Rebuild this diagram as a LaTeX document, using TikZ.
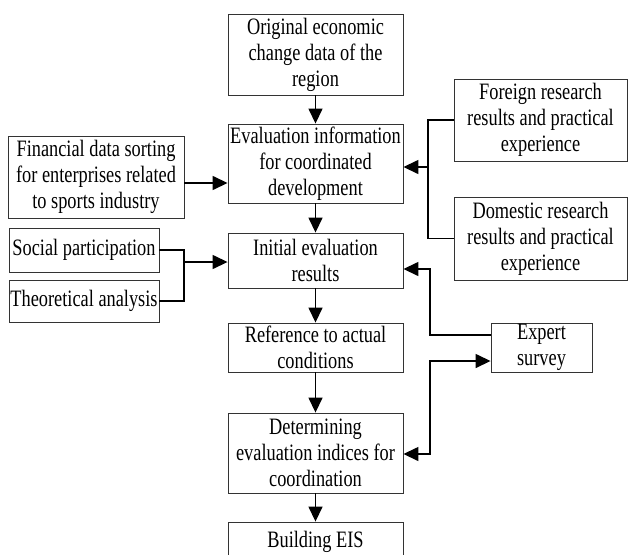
\documentclass[tikz,border=0pt]{standalone}
\usepackage{fontspec}
\setmainfont{Liberation Serif}[FakeStretch=0.78]
\usetikzlibrary{arrows.meta}
\begin{document}
\begin{tikzpicture}[x=1pt,y=-1pt,
  box/.style={draw=black!80,line width=0.9pt,align=center,inner sep=0pt,
    font=\fontsize{23.5}{26}\selectfont},
  arr/.style={line width=1.5pt,-{Triangle[length=15pt,width=14pt]}},
  arrtwo/.style={line width=1.5pt,{Triangle[length=15pt,width=14pt]}-{Triangle[length=15pt,width=14pt]}},
  ln/.style={line width=1.5pt}]
\clip (0,0) rectangle (628,554);
\useasboundingbox (0,0) rectangle (628,554);
\node[box,minimum width=175pt,minimum height=81pt] (orig) at (315.5,54.5) {Original economic\\change data of the\\region};
\node[box,minimum width=175pt,minimum height=79pt] (eval) at (315.5,163.5) {Evaluation information\\for coordinated\\development};
\node[box,minimum width=176pt,minimum height=82pt] (fin) at (96,177) {Financial data sorting\\for enterprises related\\to sports industry};
\node[box,minimum width=173pt,minimum height=82pt] (foreign) at (540.5,120) {Foreign research\\results and practical\\experience};
\node[box,minimum width=173pt,minimum height=83pt] (domestic) at (540.5,238.5) {Domestic research\\results and practical\\experience};
\node[box,minimum width=175pt,minimum height=55pt] (init) at (315.5,260.5) {Initial evaluation\\results};
\node[box,minimum width=150pt,minimum height=44pt] (social) at (84,250) {Social participation};
\node[box,minimum width=150pt,minimum height=42pt] (theo) at (84,301) {Theoretical analysis};
\node[box,minimum width=175pt,minimum height=49pt] (ref) at (315.5,347.5) {Reference to actual\\conditions};
\node[box,minimum width=101pt,minimum height=49pt] (expert) at (541.5,347.5) {Expert\\survey};
\node[box,minimum width=175pt,minimum height=80pt] (det) at (315.5,453) {Determining\\evaluation indices for\\coordination};
\node[box,minimum width=175pt,minimum height=40pt] (eis) at (315.5,542) {Building EIS};
\coordinate (jf) at (0,183);
\coordinate (jr) at (428,167);
\coordinate (js) at (184,262);
\coordinate (ke1) at (430,335);
\coordinate (ke2) at (430,269);
\coordinate (kd1) at (430,361);
\coordinate (kd2) at (430,454);
\draw[arr] (orig) -- (eval);
\draw[arr] (eval) -- (init);
\draw[arr] (init) -- (ref);
\draw[arr] (ref) -- (det);
\draw[arr] (det) -- (eis);
\draw[arr] (fin.east |- jf) -- (eval.west |- jf);
\draw[ln] (foreign.west) -| (jr);
\draw[ln] (domestic.west) -| (jr);
\draw[arr] (jr) -- (eval.east |- jr);
\draw[ln] (social.east) -| (js);
\draw[ln] (theo.east) -| (js);
\draw[arr] (js) -- (init.west |- js);
\draw[arr] (expert.west |- ke1) -- (ke1) -- (ke2) -- (init.east |- ke2);
\draw[arrtwo] (expert.west |- kd1) -- (kd1) -- (kd2) -- (det.east |- kd2);
\end{tikzpicture}
\end{document}
